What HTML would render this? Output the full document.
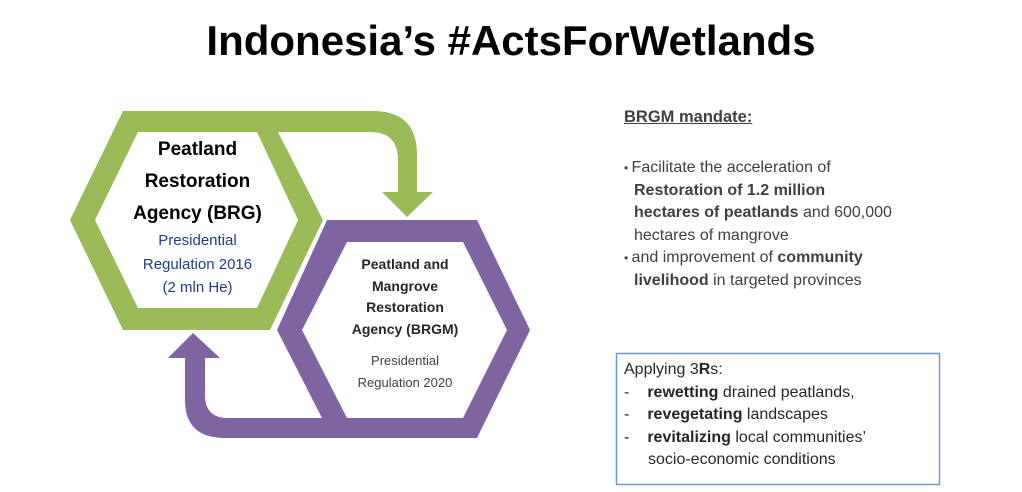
<!DOCTYPE html>
<html><head><meta charset="utf-8"><style>
body{margin:0;width:1022px;height:492px;background:#fff;overflow:hidden;font-family:"Liberation Sans",sans-serif}
svg{position:absolute;left:0;top:0}
.t{position:absolute;white-space:nowrap}
</style></head><body>
<svg width="1022" height="492">
 <path fill="#9bbb59" fill-rule="evenodd" d="M70,220 L123,111 L373,111 Q417,111 417,155 L417,192 L433,192 L407,217 L382,192 L398,192 L398,160 Q398,132 370,132 L278,132 L323,220 L270,330 L123,330 Z M95,220 L138,132 L257,132 L298,220 L257,308 L138,308 Z"/>
 <path fill="#8064a2" fill-rule="evenodd" d="M277,330 L327,220 L477,220 L530,330 L477,438 L225,438 Q185,438 185,400 L185,358 L168,358 L193,333 L220,358 L205,358 L205,395 Q205,418 228,418 L322,418 Z M302,330 L347,242 L463,242 L507,330 L463,418 L347,418 Z"/>
 <rect x="616.5" y="353.5" width="323" height="131" fill="none" stroke="#6d9bd1" stroke-width="1.5"/>
</svg>
<div class="t" style="left:0;width:1022px;text-align:center;top:17px;font-size:42px;font-weight:bold;color:#000">Indonesia’s #ActsForWetlands</div>
<div class="t" style="left:95px;width:205px;text-align:center;top:134px;font-size:19px;font-weight:bold;line-height:32px;color:#000">Peatland<br>Restoration<br>Agency (BRG)</div>
<div class="t" style="left:95px;width:205px;text-align:center;top:229px;font-size:15px;line-height:23.5px;color:#1f3c88">Presidential<br>Regulation 2016<br>(2 mln He)</div>
<div class="t" style="left:305px;width:200px;text-align:center;top:254px;font-size:14px;font-weight:bold;line-height:21.5px;color:#262626">Peatland and<br>Mangrove<br>Restoration<br>Agency (BRGM)</div>
<div class="t" style="left:305px;width:200px;text-align:center;top:350px;font-size:13px;line-height:22px;color:#404040">Presidential<br>Regulation 2020</div>
<div class="t" style="left:624px;top:108px;font-size:16.5px;font-weight:bold;color:#404040;text-decoration:underline">BRGM mandate:</div>
<div class="t" style="left:624px;top:157px;font-size:16px;line-height:22.5px;color:#404040">
<span style="font-size:12px">• </span>Facilitate the acceleration of<br>
<span style="padding-left:10px"><b>Restoration of 1.2 million</b></span><br>
<span style="padding-left:10px"><b>hectares of peatlands</b> and 600,000</span><br>
<span style="padding-left:10px">hectares of mangrove</span><br>
<span style="font-size:12px">• </span>and improvement of <b>community</b><br>
<span style="padding-left:10px"><b>livelihood</b> in targeted provinces</span></div>
<div class="t" style="left:624px;top:359px;font-size:16px;line-height:22.5px;color:#262626">
Applying 3<b>R</b>s:<br>
-<span style="padding-left:18px"><b>rewetting</b> drained peatlands,</span><br>
-<span style="padding-left:18px"><b>revegetating</b> landscapes</span><br>
-<span style="padding-left:18px"><b>revitalizing</b> local communities’</span><br>
<span style="padding-left:24px">socio-economic conditions</span></div>
</body></html>
